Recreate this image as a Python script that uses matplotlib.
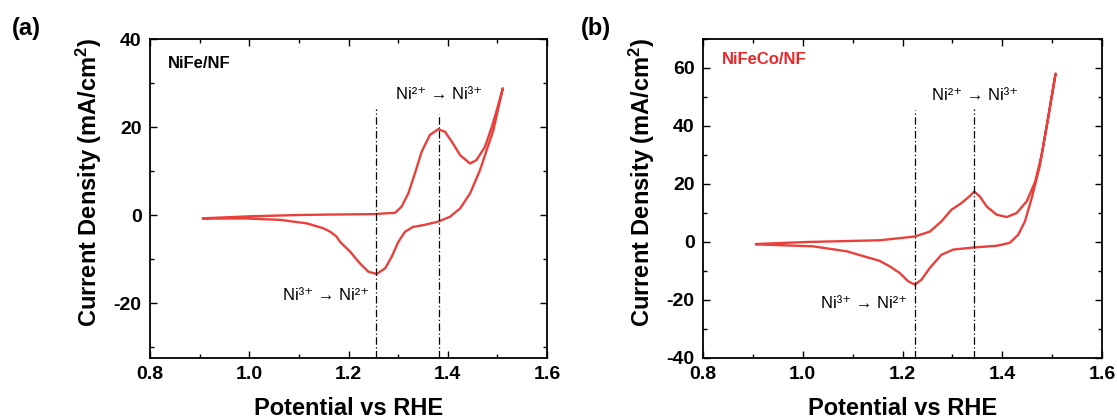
import numpy as np
import matplotlib
matplotlib.use("Agg")
import matplotlib.pyplot as plt
from matplotlib.ticker import MultipleLocator

plt.rcParams['font.family'] = ['Liberation Sans', 'DejaVu Sans']
plt.rcParams['mathtext.fontset'] = 'custom'
plt.rcParams['mathtext.rm'] = 'Liberation Sans'
plt.rcParams['mathtext.bf'] = 'Liberation Sans:bold'
plt.rcParams['axes.unicode_minus'] = False

# ---- panel (a) NiFe/NF : CV loop (anodic sweep, then cathodic back) ----
a_pot = [0.907, 1.0, 1.10, 1.163, 1.25, 1.294, 1.307, 1.3205, 1.334,
         1.3475, 1.364, 1.381, 1.3945, 1.408, 1.425, 1.445, 1.458, 1.475,
         1.489, 1.499, 1.511,
         1.492, 1.465, 1.445, 1.425, 1.4045, 1.381, 1.351, 1.330, 1.314,
         1.3005, 1.287, 1.274, 1.257, 1.240, 1.223, 1.203, 1.183, 1.176,
         1.163, 1.149, 1.116, 1.062, 0.995, 0.907]
a_cur = [-0.75, -0.3, 0.0, 0.1, 0.2, 0.5, 1.9, 4.9, 9.5,
         14.4, 18.2, 19.5, 18.9, 16.7, 13.6, 11.7, 12.5, 15.5,
         20.1, 23.9, 28.8,
         19.3, 10.2, 4.9, 1.5, -0.4, -1.5, -2.3, -2.7, -3.8,
         -6.1, -9.5, -12.1, -13.4, -12.9, -11.0, -8.3, -6.1, -4.9,
         -3.8, -3.0, -1.9, -1.1, -0.8, -0.8]

# ---- panel (b) NiFeCo/NF ----
b_pot = [0.907, 1.0075, 1.155, 1.225, 1.255, 1.278, 1.298, 1.318, 1.334,
         1.344, 1.355, 1.369, 1.389, 1.409, 1.429, 1.449, 1.466, 1.479,
         1.492, 1.507,
         1.475, 1.459, 1.4455, 1.432, 1.415, 1.389, 1.342, 1.302, 1.278,
         1.255, 1.238, 1.225, 1.211, 1.1945, 1.1745, 1.154, 1.088, 1.021, 0.907]
b_cur = [-0.7, 0.0, 0.6, 1.9, 3.6, 7.1, 11.1, 13.4, 15.7,
         17.4, 15.7, 12.2, 9.4, 8.6, 10.0, 14.0, 20.8, 30.0,
         42.6, 58.1,
         26.0, 15.1, 7.1, 2.5, -0.3, -1.3, -1.9, -2.6, -4.4,
         -8.9, -13.0, -14.7, -13.5, -10.7, -8.4, -6.5, -3.2, -1.5, -0.8]

panels = [
    dict(pot=a_pot, cur=a_cur, ylim=(-32.5, 40), tag='(a)', name='NiFe/NF',
         name_color='black', name_y=34.5, vlines=[(1.255, 24), (1.382, 23)],
         ox=(1.383, 27.3), red=(1.155, -18.2)),
    dict(pot=b_pot, cur=b_cur, ylim=(-40, 70), tag='(b)', name='NiFeCo/NF',
         name_color='#e8272b', name_y=63, vlines=[(1.225, 45.5), (1.343, 46)],
         ox=(1.345, 50.6), red=(1.122, -21.2)),
]

fig = plt.figure(figsize=(11.17, 4.19), dpi=100)
rects = [[150 / 1117, 1 - 358 / 419, 397 / 1117, 319 / 419],
         [703 / 1117, 1 - 358 / 419, 399 / 1117, 319 / 419]]
tag_x = [12 / 1117, 581 / 1117]

red = '#e8413c'
for p, r, tx in zip(panels, rects, tag_x):
    ax = fig.add_axes(r)
    ax.plot(p['pot'], p['cur'], color=red, lw=1.7, solid_joinstyle='round')
    for xv, ytop in p['vlines']:
        ax.plot([xv, xv], [p['ylim'][0], ytop], color='black', lw=0.9,
                linestyle=(0, (6, 2, 1, 2)))
    ax.set_xlim(0.8, 1.6)
    ax.set_ylim(*p['ylim'])
    ax.xaxis.set_major_locator(MultipleLocator(0.2))
    ax.xaxis.set_minor_locator(MultipleLocator(0.1))
    ax.yaxis.set_major_locator(MultipleLocator(20))
    ax.yaxis.set_minor_locator(MultipleLocator(10))
    ax.tick_params(which='both', direction='in', top=True, right=True, width=1.0)
    ax.tick_params(which='major', length=5, labelsize=14, pad=6)
    ax.tick_params(which='minor', length=3)
    for lab in ax.get_xticklabels() + ax.get_yticklabels():
        lab.set_fontweight('bold')
    for s in ax.spines.values():
        s.set_linewidth(1.3)
    ax.set_xlabel('Potential vs RHE', fontsize=17, fontweight='bold', labelpad=10)
    ax.set_ylabel('Current Density (mA/cm$\\mathbf{^2}$)', fontsize=17,
                  fontweight='bold')
    ax.yaxis.set_label_coords(-0.116, 0.55)
    ax.text(0.837, p['name_y'], p['name'], fontsize=12, fontweight='bold',
            color=p['name_color'], va='center', ha='left')
    ax.text(p['ox'][0], p['ox'][1], 'Ni²⁺ → Ni³⁺', fontsize=12,
            ha='center', va='center')
    ax.text(p['red'][0], p['red'][1], 'Ni³⁺ → Ni²⁺', fontsize=12,
            ha='center', va='center')
    fig.text(tx, 1 - 28 / 419, p['tag'], fontsize=17, fontweight='bold',
             ha='left', va='center')

fig.savefig('out.png', dpi=100)
